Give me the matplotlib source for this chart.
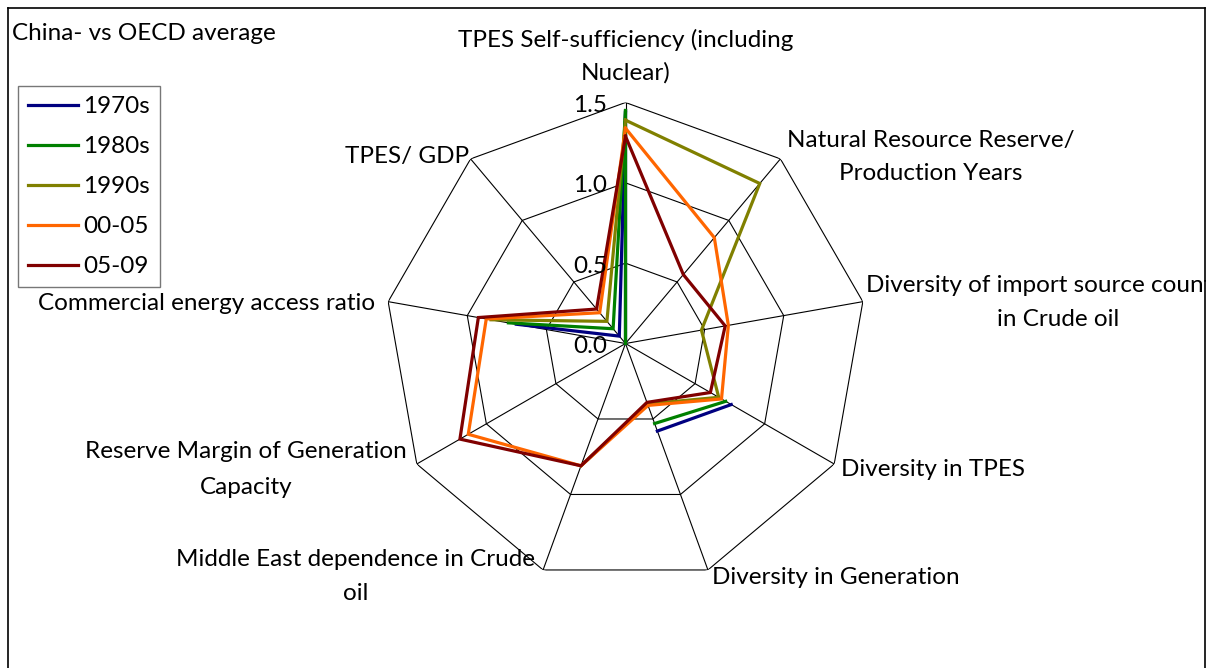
import numpy as np
import matplotlib
matplotlib.use("Agg")
import matplotlib.pyplot as plt
from matplotlib.lines import Line2D
from matplotlib.patches import Rectangle

plt.rcParams['font.family'] = ['Lato', 'DejaVu Sans']

title = "China- vs OECD average"
categories = [
    "TPES Self-sufficiency (including\nNuclear)",
    "Natural Resource Reserve/\nProduction Years",
    "Diversity of import source countries\nin Crude oil",
    "Diversity in TPES",
    "Diversity in Generation",
    "Middle East dependence in Crude\noil",
    "Reserve Margin of Generation\nCapacity",
    "Commercial energy access ratio",
    "TPES/ GDP",
]
series_names = ["1970s", "1980s", "1990s", "00-05", "05-09"]
nan = np.nan
s1970 = [1.44, 0.00, nan, 0.76, 0.58, nan, nan, 0.69, 0.06]
s1980 = [1.45, 0.00, nan, 0.72, 0.53, nan, nan, 0.74, 0.12]
s1990 = [1.39, 1.30, 0.48, 0.67, 0.40, 0.81, nan, 0.85, 0.18]
s0005 = [1.34, 0.86, 0.65, 0.69, 0.41, 0.81, 1.13, 0.88, 0.25]
s0509 = [1.29, 0.56, 0.63, 0.61, 0.39, 0.81, 1.19, 0.93, 0.28]
series_values = [s1970, s1980, s1990, s0005, s0509]
colors = ["#000080", "#008000", "#808000", "#FF6600", "#800000"]
rings = [0.5, 1.0, 1.5]
ring_labels = ["0.0", "0.5", "1.0", "1.5"]

W, H = 1220, 668
fig = plt.figure(figsize=(W / 100, H / 100), dpi=100)
fig.patch.set_facecolor("white")

cx, cy, R = 625.5, 343.5, 241.0
ax = fig.add_axes([(cx - R) / W, (H - cy - R) / H, 2 * R / W, 2 * R / H], projection="polar")
ax.set_theta_zero_location("N")
ax.set_theta_direction(-1)
ax.set_ylim(0, 1.5)
ax.grid(False)
ax.spines["polar"].set_visible(False)
ax.set_xticks([])
ax.set_yticks([])
ax.patch.set_alpha(0)

n = len(categories)
theta = np.arange(n) * 2 * np.pi / n
theta_c = np.append(theta, theta[0])

for r in rings:
    ax.plot(theta_c, [r] * (n + 1), color="black", lw=0.8, zorder=1)
for t in theta:
    ax.plot([t, t], [0, 1.5], color="black", lw=0.8, zorder=1)

for name, vals, c in zip(series_names, series_values, colors):
    v = np.append(vals, vals[0])
    ax.plot(theta_c, v, color=c, lw=2.3, label=name, zorder=3, solid_joinstyle="miter")

fs = 17.5
for i, lab in enumerate(ring_labels):
    r = i * 0.5
    ax.annotate(lab, xy=(0, r), xytext=(-18, -3), textcoords="offset pixels",
                ha="right", va="center", fontsize=fs, annotation_clip=False)

label_pos = [
    (626, [40, 73]),
    (931, [140, 173]),
    (1058, [285, 320]),
    (933, [470]),
    (836, [577]),
    (356, [560, 593]),
    (246, [452, 487]),
    (207, [303]),
    (407, [157]),
]
for lab, (x, ys) in zip(categories, label_pos):
    for line, y in zip(lab.split("\n"), ys):
        fig.text(x / W, 1 - y / H, line, ha="center", va="center", fontsize=fs, zorder=1)

fig.text(12 / W, 1 - 34 / H, title, ha="left", va="center", fontsize=fs)

# white mask right of border (the reference clips the long label there), then border
fig.add_artist(Rectangle((1206 / W, 0), 1 - 1206 / W, 1, transform=fig.transFigure,
                         facecolor="white", edgecolor="none", zorder=5))
for xs, ys in [([8, 8], [8, H]), ([8, 1205], [8, 8]), ([1205, 1205], [8, H])]:
    fig.add_artist(Line2D([x / W for x in xs], [1 - y / H for y in ys], transform=fig.transFigure,
                          color="black", lw=1.2, zorder=6))

leg = ax.legend(loc="upper left", bbox_to_anchor=(18 / W, 1 - 86 / H), bbox_transform=fig.transFigure,
                frameon=True, fancybox=False, fontsize=fs, handlelength=2.05, handletextpad=0.2,
                labelspacing=0.78, borderpad=0.42, borderaxespad=0)
leg.get_frame().set_edgecolor("#555555")
leg.get_frame().set_linewidth(1.0)
for l in leg.get_lines():
    l.set_linewidth(2.3)

fig.savefig("out.png", dpi=100, facecolor="white")
